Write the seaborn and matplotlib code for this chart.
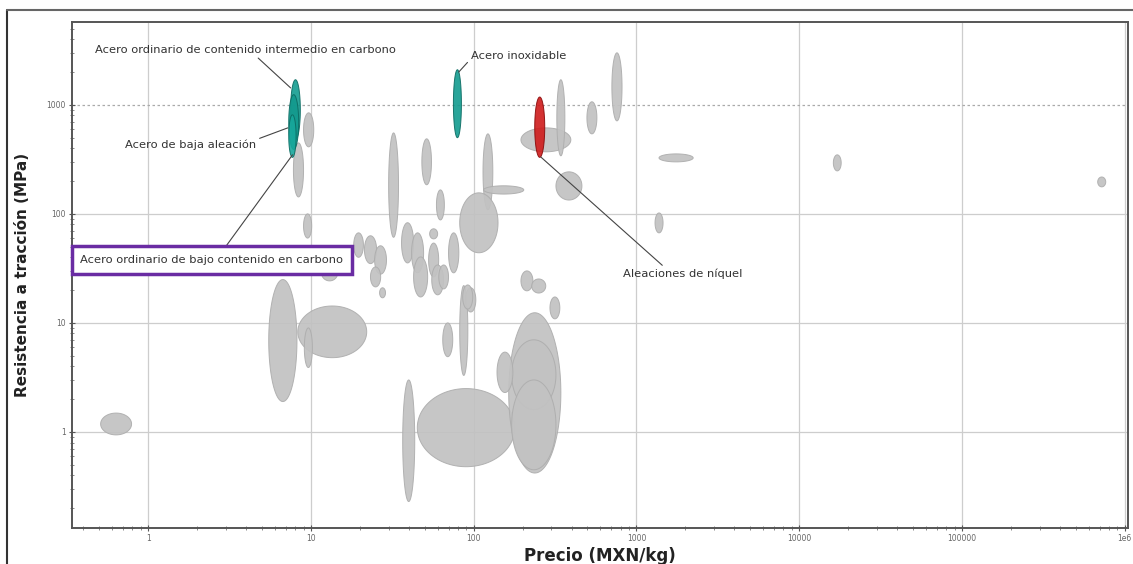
import numpy as np
import matplotlib
matplotlib.use("Agg")
import matplotlib.pyplot as plt
from matplotlib.lines import Line2D
from matplotlib.ticker import FixedLocator, FixedFormatter, LogLocator, NullFormatter
import seaborn as sns

# background materials: price range (MXN/kg) and tensile strength range (MPa)
gray_price_lo = [9.0, 7.8, 9.0, 0.51, 5.5, 8.3, 9.1, 45, 36.6, 164, 171, 171, 139, 294, 64.5, 82, 89,
                 195, 227, 30, 48, 59, 114, 115, 82, 53.6, 18.3, 21.3, 24.6, 23.2, 26.4, 36, 41.5, 42.7,
                 52.8, 55.2, 61, 70, 85.5, 11.6, 195, 324, 496, 706, 320, 1375, 1300, 16200, 682000]
gray_price_hi = [10.4, 9.0, 10.1, 0.79, 8.2, 22, 10.2, 179, 43.4, 343, 320, 320, 174, 338, 74.3, 92, 103,
                 231, 277, 34.5, 55, 66, 131, 203, 141, 60, 21, 25.3, 29.1, 26.8, 28.7, 42.7, 49.2, 52.1,
                 60.9, 65.3, 70, 81, 98.6, 14.6, 395, 363, 571, 815, 462, 2230, 1456, 18100, 764000]
gray_str_lo = [412, 143, 60, 0.94, 1.9, 4.8, 3.9, 0.48, 0.23, 0.42, 1.6, 0.45, 2.3, 10.9, 4.9, 3.3, 12.6,
               19.7, 18.8, 61, 185, 88, 109, 152, 44, 59, 40, 35, 28, 21.4, 17, 35.5, 28.8, 17.3,
               26.4, 18.1, 20.5, 28.8, 13.4, 24.3, 371, 341, 542, 713, 134, 300, 67, 248, 177]
gray_str_hi = [845, 448, 100, 1.49, 25, 14.3, 9.0, 2.5, 3.0, 12.4, 7.0, 3.0, 5.4, 17.3, 10, 22, 21,
               30, 25.3, 553, 488, 166, 542, 181, 156, 73, 67, 63, 51, 32.6, 21, 83, 67, 40.3,
               54, 34, 34, 67, 22.3, 34, 615, 1700, 1067, 3000, 243, 355, 102, 348, 218]

# highlighted materials
hl_names = ["Acero ordinario de contenido intermedio en carbono", "Acero de baja aleación",
            "Acero ordinario de bajo contenido en carbono", "Acero inoxidable", "Aleaciones de níquel"]
hl_price_lo = [7.5, 7.3, 7.3, 75, 237]
hl_price_hi = [8.6, 8.4, 8.1, 84, 273]
hl_str_lo = [480, 390, 330, 500, 330]
hl_str_hi = [1700, 1240, 810, 2100, 1180]
hl_colors = ["#149c90", "#12998d", "#17a79b", "#139b8f", "#cf1b1b"]
hl_edges = ["#0b6b62", "#0b6b62", "#0b6b62", "#0b6b62", "#8a0a0a"]

x_ticks = [1, 10, 100, 1000, 10000, 100000, 1000000]
x_ticklabels = ["1", "10", "100", "1000", "10000", "100000", "1e6"]
y_ticks = [1, 10, 100, 1000]
y_ticklabels = ["1", "10", "100", "1000"]

sns.set_theme(style="white")
plt.rcParams["font.family"] = ["DejaVu Sans"]

fig = plt.figure(figsize=(11.33, 5.64), dpi=100)
ax = fig.add_axes([0.0636, 0.064, 0.9320, 0.897])
ax.set_xscale("log")
ax.set_yscale("log")
ax.set_xlim(10 ** -0.468, 10 ** 6.02)
ax.set_ylim(10 ** -0.88, 10 ** 3.76)

t = np.linspace(0, 2 * np.pi, 120)


def draw_ellipse(plo, phi, slo, shi, fc, ec, alpha, z):
    cx = (np.log10(plo) + np.log10(phi)) / 2
    cy = (np.log10(slo) + np.log10(shi)) / 2
    a = (np.log10(phi) - np.log10(plo)) / 2
    b = (np.log10(shi) - np.log10(slo)) / 2
    ax.fill(10 ** (cx + a * np.cos(t)), 10 ** (cy + b * np.sin(t)),
            facecolor=fc, edgecolor=ec, linewidth=0.7, alpha=alpha, zorder=z)


for plo, phi, slo, shi in zip(gray_price_lo, gray_price_hi, gray_str_lo, gray_str_hi):
    draw_ellipse(plo, phi, slo, shi, "#c2c2c2", "#adadad", 0.92, 2)

for plo, phi, slo, shi, fc, ec in zip(hl_price_lo, hl_price_hi, hl_str_lo, hl_str_hi, hl_colors, hl_edges):
    draw_ellipse(plo, phi, slo, shi, fc, ec, 0.9, 3)

# grid and ticks
ax.xaxis.set_major_locator(FixedLocator(x_ticks))
ax.xaxis.set_major_formatter(FixedFormatter(x_ticklabels))
ax.yaxis.set_major_locator(FixedLocator(y_ticks))
ax.yaxis.set_major_formatter(FixedFormatter(y_ticklabels))
ax.xaxis.set_minor_locator(LogLocator(base=10, subs=np.arange(2, 10), numticks=20))
ax.yaxis.set_minor_locator(LogLocator(base=10, subs=np.arange(2, 10), numticks=20))
ax.xaxis.set_minor_formatter(NullFormatter())
ax.yaxis.set_minor_formatter(NullFormatter())
ax.tick_params(which="major", direction="inout", length=5, width=0.8, color="#555555",
               labelsize=5.5, labelcolor="#666666", pad=2, bottom=True, left=True)
ax.tick_params(which="minor", direction="inout", length=3, width=0.6, color="#777777",
               bottom=True, left=True)
ax.grid(True, which="major", color="#cdcdcd", linewidth=0.9, zorder=0)
ax.set_axisbelow(True)
ax.get_ygridlines()[3].set_linestyle((0, (2, 2)))
ax.get_ygridlines()[3].set_color("#aaaaaa")
for s in ax.spines.values():
    s.set_color("#555555")
    s.set_linewidth(1.4)

ax.set_xlabel("Precio (MXN/kg)", fontsize=12, fontweight="bold", color="#222222", labelpad=3)
ax.set_ylabel("Resistencia a tracción (MPa)", fontsize=11, fontweight="bold", color="#222222", labelpad=12)

# annotations
line_kw = dict(arrowstyle="-", color="#444444", lw=0.8, shrinkA=0, shrinkB=0)
txt_kw = dict(fontsize=8.25, color="#333333", zorder=5)

ax.annotate(hl_names[0], xy=(7.5, 1430), xytext=(0.472, 3200), ha="left", va="center",
            arrowprops=dict(relpos=(0.53, 0.0), **line_kw), **txt_kw)
ax.annotate(hl_names[1], xy=(7.2, 615), xytext=(0.722, 430), ha="left", va="center",
            arrowprops=dict(relpos=(1.0, 1.0), **line_kw), **txt_kw)
ax.annotate(hl_names[2], xy=(7.7, 348), xytext=(0.382, 37.8), ha="left", va="center",
            arrowprops=dict(relpos=(0.53, 1.0), **line_kw),
            bbox=dict(boxstyle="square,pad=0.75", fc="white", ec="#6a2ca3", lw=2.5), **txt_kw)
ax.annotate(hl_names[3], xy=(80.9, 2000), xytext=(95.9, 2817), ha="left", va="center",
            arrowprops=dict(relpos=(0.0, 0.2), **line_kw), **txt_kw)
ax.annotate(hl_names[4], xy=(258, 333), xytext=(826, 28.2), ha="left", va="center",
            arrowprops=dict(relpos=(0.36, 1.0), **line_kw), **txt_kw)

# outer frame of the original figure
fig.add_artist(Line2D([7 / 1133, 7 / 1133], [0, 1 - 10 / 564], color="#333333", lw=1.5))
fig.add_artist(Line2D([7 / 1133, 1], [1 - 10 / 564, 1 - 10 / 564], color="#666666", lw=1.5))

fig.savefig("out.png", dpi=100)
